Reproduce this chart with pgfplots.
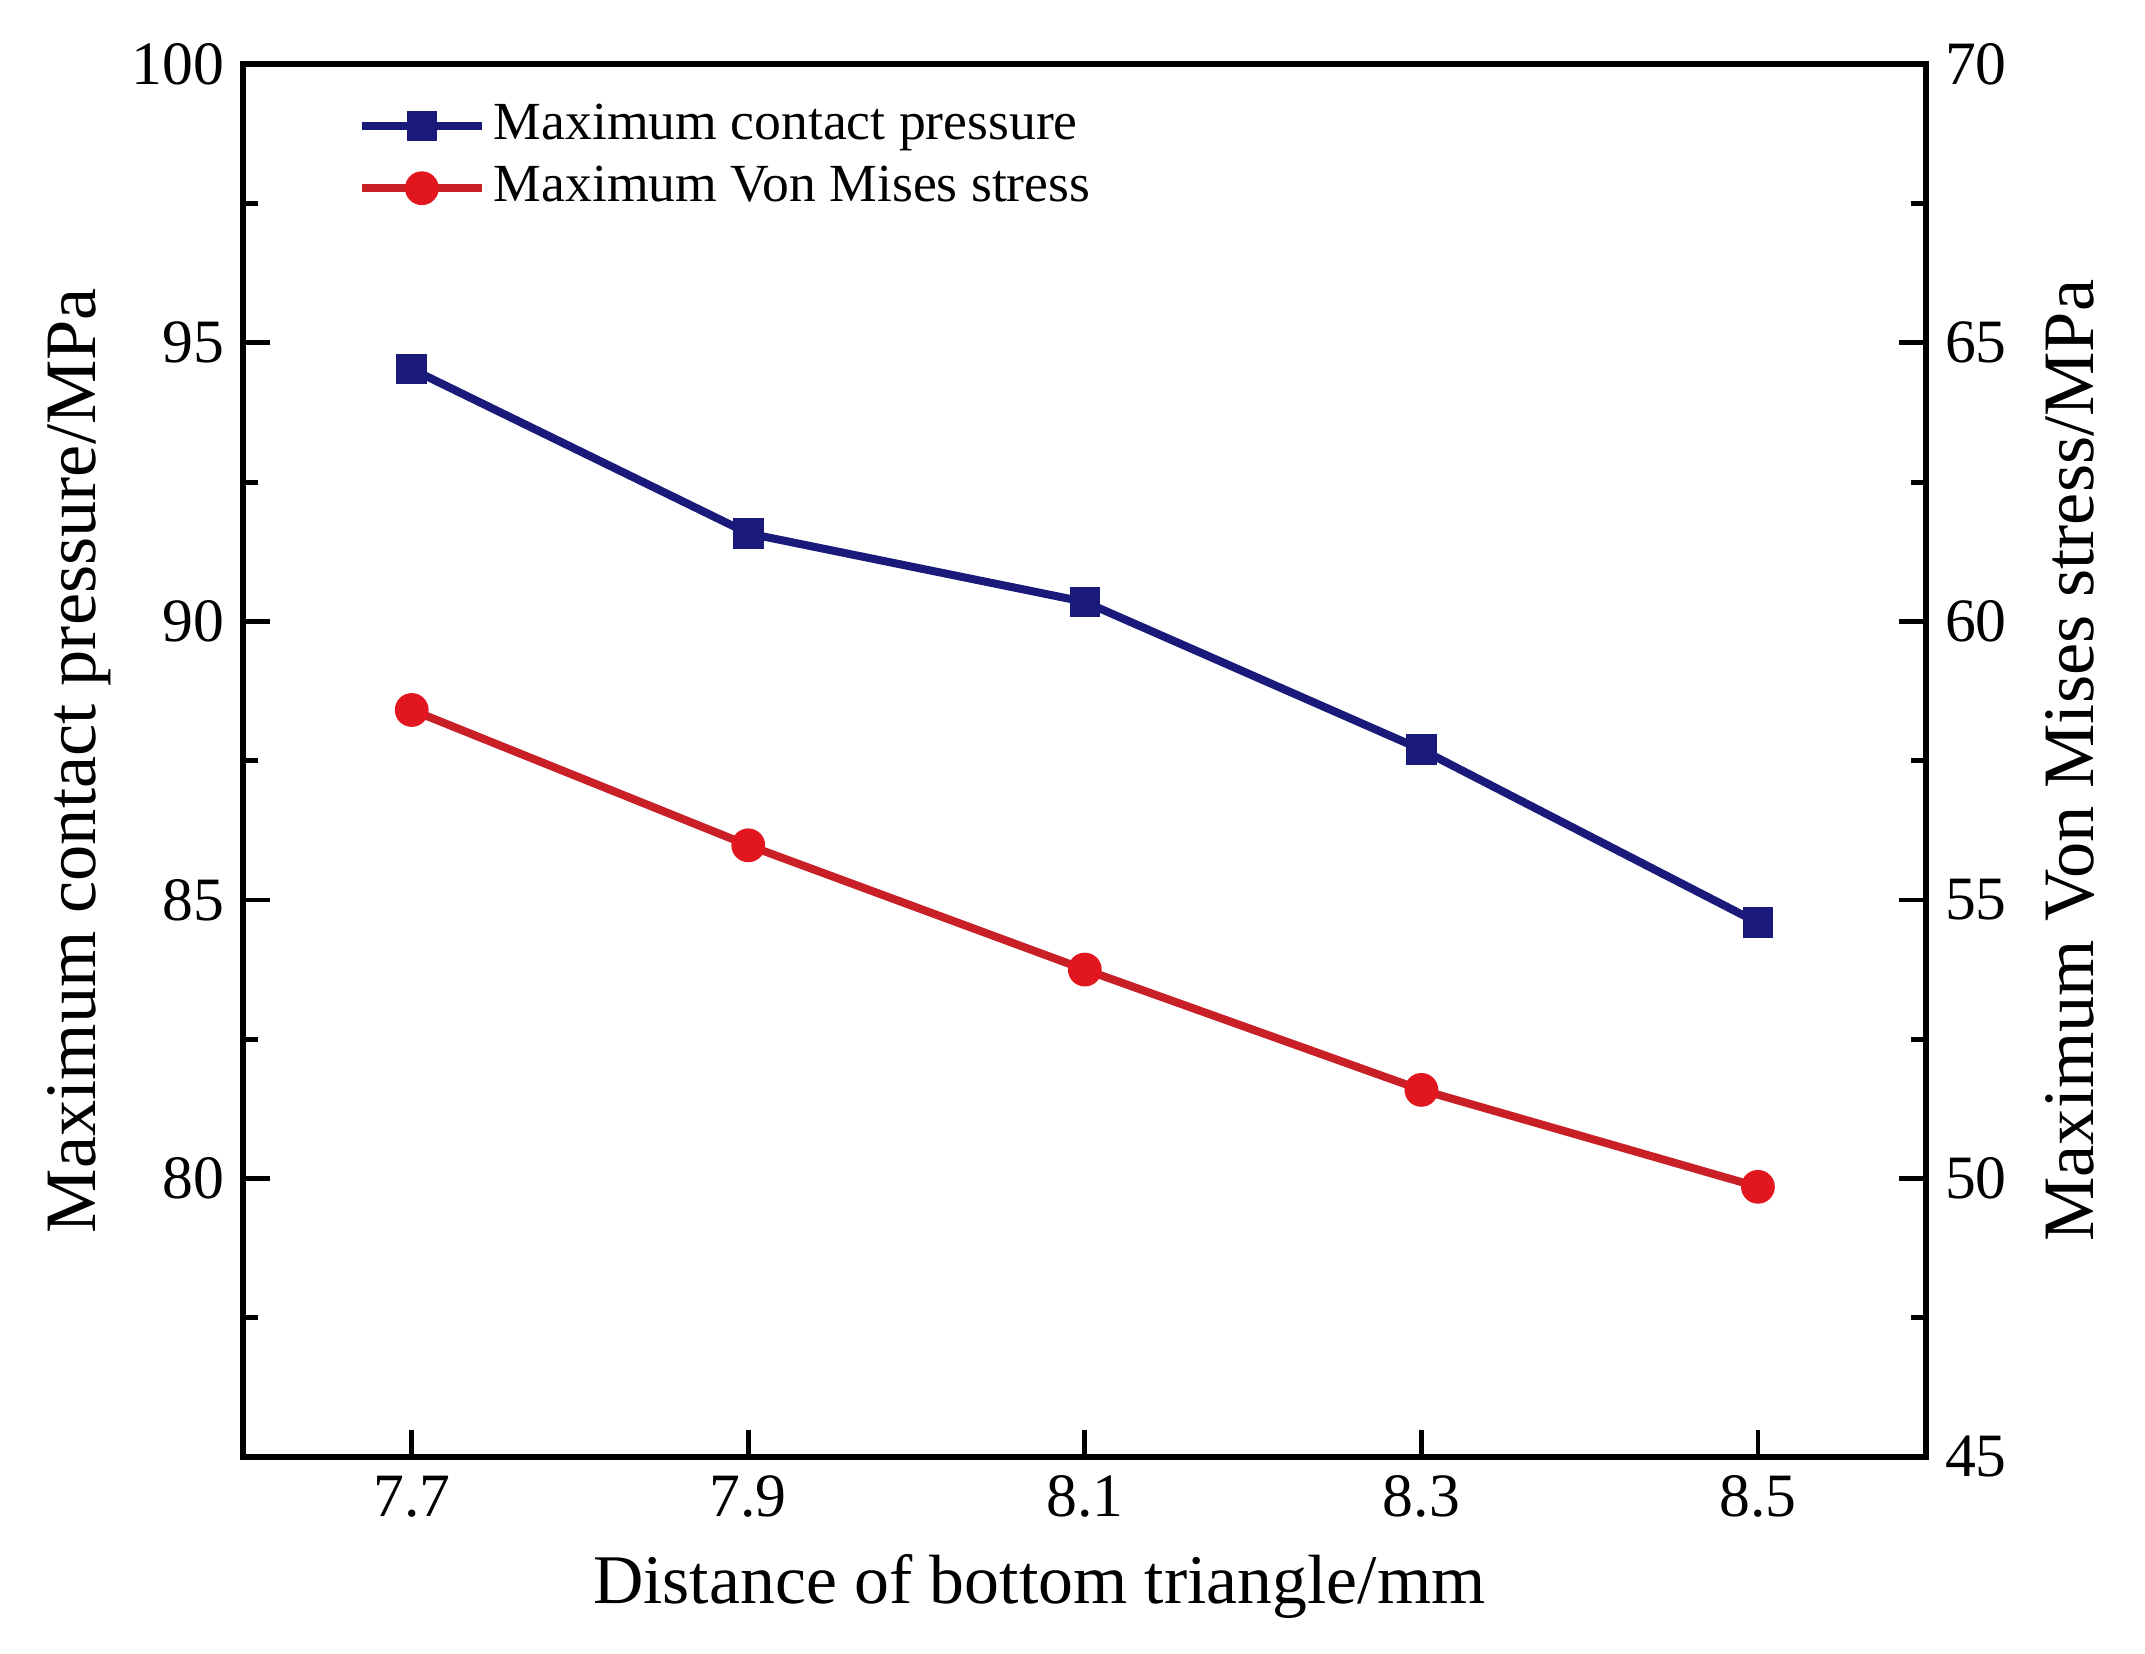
\documentclass[border=0pt]{standalone}
\usepackage{fontspec}
\setmainfont{Liberation Serif}
\usepackage{pgfplots}
\pgfplotsset{compat=1.18}
\definecolor{navy}{RGB}{26,26,122}
\definecolor{lred}{RGB}{200,32,38}
\definecolor{mred}{RGB}{225,22,30}
\begin{document}
\begin{tikzpicture}
\pgfplotsset{
 common/.style={
  scale only axis, width=313.8pt, height=259.7pt,
  at={(0,0)}, anchor=south west,
  xmin=7.6, xmax=8.6,
  tick align=inside,
  major tick length=5pt, minor tick length=2.8pt,
  axis line style={line width=1.1pt},
  every tick/.style={black, line width=0.9pt},
  tick label style={font=\fontsize{11.5}{13}\selectfont},
  label style={font=\fontsize{13.5}{16}\selectfont},
  /pgf/number format/assume math mode=true,
  legend image code/.code={\draw[mark repeat=2,mark phase=2] plot coordinates {(0pt,0pt)(11.2pt,0pt)(22.4pt,0pt)};},
 },
 bl/.style={navy, line width=1.5pt, mark=square*, mark size=2.6pt, mark options={fill=navy, draw=navy, line width=0.5pt}},
 rd/.style={lred, line width=1.5pt, mark=*, mark size=2.9pt, mark options={fill=mred, draw=mred, line width=0.5pt}},
}
\begin{axis}[common,
  ymin=75, ymax=100,
  xtick={7.7,7.9,8.1,8.3,8.5},
  xticklabels={7.7,7.9,8.1,8.3,8.5},
  xtick pos=bottom, ytick pos=left,
  ytick={80,85,90,95,100},
  minor ytick={77.5,82.5,87.5,92.5,97.5},
  xlabel={Distance of bottom triangle/mm},
  ylabel={Maximum contact pressure/MPa},
  xlabel style={at={(axis description cs:0.473,-0.105)}, anchor=base, font=\fontsize{13}{16}\selectfont},
  ylabel style={at={(axis description cs:-0.0975,0.5)}, rotate=0, anchor=center},
]
\addplot[bl] coordinates {(7.7,94.53) (7.9,91.58) (8.1,90.35) (8.3,87.70) (8.5,84.59)};
\end{axis}
\begin{axis}[common,
  ymin=45, ymax=70,
  axis x line=none,
  axis y line*=right,
  ytick={45,50,55,60,65,70},
  minor ytick={47.5,52.5,57.5,62.5,67.5},
  ylabel={Maximum Von Mises stress/MPa},
  ylabel style={at={(axis description cs:1.0853,0.5)}, rotate=0, anchor=center},
  legend style={draw=none, fill=none, at={(axis description cs:0.0673,0.978)}, anchor=north west,
    inner sep=0pt, row sep=0.5pt, font=\fontsize{10}{12}\selectfont,
    nodes={inner sep=1.5pt}},
  legend cell align=left,
]
\addlegendimage{bl}
\addlegendentry{Maximum contact pressure}
\addplot[rd] coordinates {(7.7,58.41) (7.9,55.98) (8.1,53.75) (8.3,51.59) (8.5,49.85)};
\addlegendentry{Maximum Von Mises stress}
\end{axis}
\pgfresetboundingbox
\path[use as bounding box] (-45.4pt,-36.7pt) rectangle (354.6pt,271.7pt);
\end{tikzpicture}
\end{document}
